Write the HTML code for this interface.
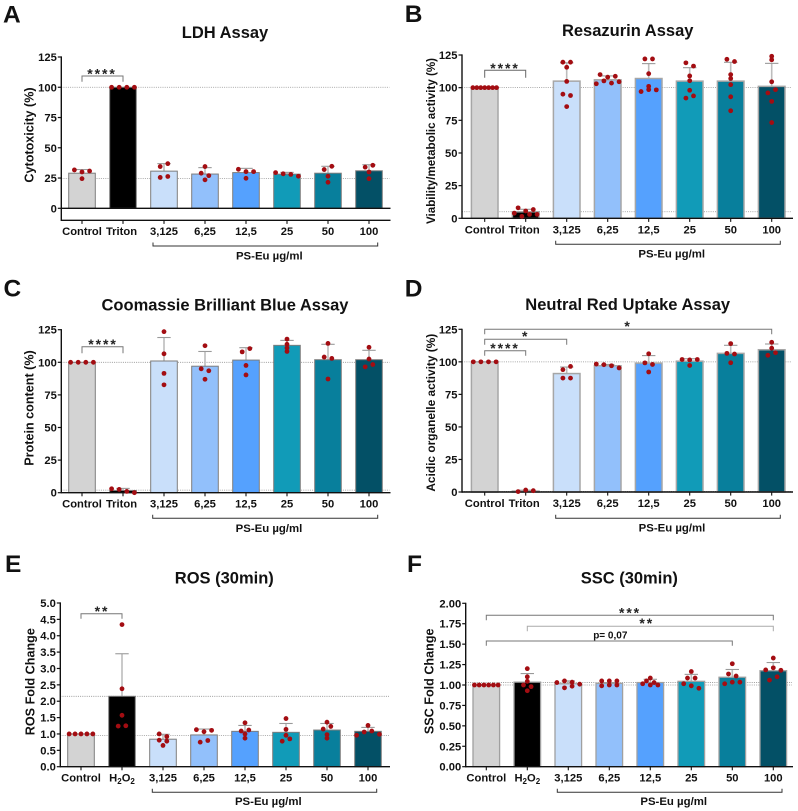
<!DOCTYPE html>
<html lang="en">
<head>
<meta charset="utf-8">
<title>PS-Eu assay panels</title>
<style>
  html,body{margin:0;padding:0;background:#fff;width:798px;height:811px;overflow:hidden}
  svg{display:block;font-family:"Liberation Sans",Arial,sans-serif;filter:blur(0.3px)}
  text{fill:#111;font-weight:bold}
</style>
</head>
<body>
<svg id="figure" xmlns="http://www.w3.org/2000/svg" width="798" height="811" viewBox="0 0 798 811"></svg>
<script>
const categoriesTriton = ['Control','Triton','3,125','6,25','12,5','25','50','100'];
const categoriesPeroxide = ['Control','H2O2','3,125','6,25','12,5','25','50','100'];
const percentTicks = ['0','25','50','75','100','125'];
const rosTicks = ['0.0','0.5','1.0','1.5','2.0','2.5','3.0','3.5','4.0','4.5','5.0'];
const sscTicks = ['0.00','0.25','0.50','0.75','1.00','1.25','1.50','1.75','2.00'];

const ldhMeans = [29,100,30.7,28.3,29.5,28.2,29,31];
const ldhErrorTops = [32,100,36.9,33.6,33,29.7,34.7,36];
const ldhPoints = [
  [31.7,30,30.8,24.5],[100,100,100,100],[34.5,36.9,25.5,26.3],[34.5,29,27,23.5],
  [32.2,30.3,30.3,24.8],[29.5,28.5,28,26.5],[32,34.7,26.5,21.5],[34,35.5,30,24.5]
];
const ldhReferenceLines = [100,24.5];

const resazurinMeans = [100,5,105,106,107,105,105,101];
const resazurinErrorTops = [100,6.9,119,109,118.4,115.3,119.4,118.6];
const resazurinPoints = [
  [100,100,100,100,100,100,100],[8,5.6,6.7,3.9,1.5,3,3],
  [119.5,119.5,115.6,104.8,95,94,85.5],[110,108,108.7,103,105.2,103.5,104.5],
  [122,122,110.7,101,97,98.5,98.3],[119,116.5,109,105.3,98,92,93.7],
  [121.7,120,110,107,102.3,93,82.3],[124,121.3,104.5,96,98.5,89.5,73.3]
];
const resazurinReferenceLines = [100,5];

const coomassieMeans = [100,1.7,101,97,101.7,113,102,102];
const coomassieErrorTops = [100,3.3,119,108.3,111.2,116.8,113.8,109.2];
const coomassiePoints = [
  [100,100,100,100],[3,2.5,1,0],[123.5,106.5,91.5,82.7],[112.7,95,93.5,87],
  [108,110.5,97.6,90.3],[117.8,113.8,111,108.3],[114.5,104,103,87.2],[111.5,102.5,96.5,98.3]
];
const coomassieReferenceLines = [100,2];

const neutralRedMeans = [100,0.7,91,97,99,100.5,106.5,109.3];
const neutralRedErrorTops = [100,1.4,96,98,104.8,102.4,112.7,113.7];
const neutralRedPoints = [
  [100,100,100,100],[0.3,1.5,1],[94,96.5,87.5,87.5],[98.3,97.8,97,95.3],
  [106.2,99.2,98,92.2],[101.8,101.5,101.8,97.2],[114,106.5,106,99.3],[115,110.5,105,107]
];
const neutralRedReferenceLines = [100,0.5];

const rosMeans = [1,2.15,0.84,0.97,1.08,1.05,1.12,1.08];
const rosErrorTops = [1,3.45,0.99,1.15,1.26,1.32,1.32,1.2];
const rosPoints = [
  [1,1,1,1,1],[4.34,2.38,1.57,1.24,1.25],[1,0.92,0.81,0.78,0.65],[1.13,1.07,1.11,0.75,0.8],
  [1.34,1.09,1.12,1,0.87],[1.47,1.14,0.96,0.78,0.85],[1.36,1.15,1.23,0.98,0.87],[1.26,0.96,1.06,1.09,0.99]
];
const rosReferenceLines = [2.15,0.95];

const sscMeans = [1,1.035,1.015,1.02,1.03,1.045,1.095,1.175];
const sscErrorTops = [1,1.14,1.05,1.03,1.07,1.13,1.19,1.275];
const sscPoints = [
  [1,1,1,1,1,1],[1.2,1.1,1.045,1,0.98,0.93],[1.03,1.05,1.035,1.01,0.965,0.985],
  [1.05,1.05,1.05,0.99,1,1],[1.05,1.03,1.085,1.015,1,1],[1.165,1.085,1.085,1.015,0.99,0.96],
  [1.26,1.135,1.11,1.015,1.035,1.035],[1.33,1.185,1.21,1.18,1.06,1.1]
];
const sscReferenceLines = [1.03,1];

const barColors = ['#d3d3d3','#000000','#c9dffa','#92c0fb','#55a1fe','#119bb8','#087f9c','#035066'];

const panels = [
  {key:'ldh',letter:'A',lx:3,ly:22.7,title:'LDH Assay',tx:225,ty:38,yTitle:'Cytotoxicity (%)',ytx:29,yty:135,ytSize:12.6,
   cats:categoriesTriton,means:ldhMeans,errs:ldhErrorTops,pts:ldhPoints,refs:ldhReferenceLines,ticks:percentTicks,
   yMax:125,axisX:61.3,yTop:57,yZero:208.3,xAxisY:220.3,xEnd:390.5,c0:82,dc:41,labelY:235,barStroke:'#7d7d7d',barSW:1,
   group:[153,377.7,246],groupLabel:[269.3,259.3],
   brackets:[{a:0,b:1,top:76,drop:5.7,text:'****',tx:102,cy:71,color:'#777'}]},
  {key:'resazurin',letter:'B',lx:404.7,ly:22,title:'Resazurin Assay',tx:627.7,ty:36,yTitle:'Viability/metabolic activity (%)',ytx:430.7,yty:141,ytSize:11.6,
   cats:categoriesTriton,means:resazurinMeans,errs:resazurinErrorTops,pts:resazurinPoints,refs:resazurinReferenceLines,ticks:percentTicks,
   yMax:125,axisX:462,yTop:55,yZero:218.3,xAxisY:218.3,xEnd:793,c0:484.7,dc:41,labelY:233.3,barStroke:'#a6a6a6',barSW:1.5,
   group:[555.7,780.3,244.3],groupLabel:[671.7,257.3],
   brackets:[{a:0,b:1,top:70.3,drop:7.4,text:'****',tx:505,cy:65.7,color:'#666'}]},
  {key:'coomassie',letter:'C',lx:3.5,ly:296.7,title:'Coomassie Brilliant Blue Assay',tx:225,ty:310.7,yTitle:'Protein content (%)',ytx:29,yty:408,ytSize:12.6,
   cats:categoriesTriton,means:coomassieMeans,errs:coomassieErrorTops,pts:coomassiePoints,refs:coomassieReferenceLines,ticks:percentTicks,
   yMax:125,axisX:61.3,yTop:329.7,yZero:492.7,xAxisY:492.7,xEnd:390.5,c0:82,dc:41,labelY:507.3,barStroke:'#7d7d7d',barSW:1,
   group:[152.7,377.7,518.3],groupLabel:[269,532],
   brackets:[{a:0,b:1,top:346.7,drop:6.6,text:'****',tx:103,cy:341.7,color:'#777'}]},
  {key:'neutral-red',letter:'D',lx:404.7,ly:296.7,title:'Neutral Red Uptake Assay',tx:627.7,ty:310,yTitle:'Acidic organelle activity (%)',ytx:430.7,yty:412.7,ytSize:11.9,
   cats:categoriesTriton,means:neutralRedMeans,errs:neutralRedErrorTops,pts:neutralRedPoints,refs:neutralRedReferenceLines,ticks:percentTicks,
   yMax:125,axisX:462,yTop:329.3,yZero:492,xAxisY:492,xEnd:793,c0:484.7,dc:41,labelY:507,barStroke:'#a6a6a6',barSW:1.5,
   group:[555.7,780.3,518.3],groupLabel:[672,531.7],
   brackets:[
     {a:0,b:7,top:329.3,drop:5,text:'*',tx:628,cy:323.3,color:'#777'},
     {a:0,b:2,top:339.3,drop:5.4,text:'*',tx:525.7,cy:333.7,color:'#777'},
     {a:0,b:1,top:350.7,drop:5,text:'****',tx:505,cy:345.3,color:'#777'}]},
  {key:'ros',letter:'E',lx:5,ly:572,title:'ROS (30min)',tx:224.3,ty:583.7,yTitle:'ROS Fold Change',ytx:30,yty:681.7,ytSize:12.6,
   cats:categoriesPeroxide,means:rosMeans,errs:rosErrorTops,pts:rosPoints,refs:rosReferenceLines,ticks:rosTicks,
   yMax:5,axisX:60.3,yTop:603,yZero:766.7,xAxisY:766.7,xEnd:390,c0:81,dc:41,labelY:781.3,barStroke:'#7d7d7d',barSW:1,
   group:[152.3,376.7,792.3],groupLabel:[268.3,805],
   brackets:[{a:0,b:1,top:613.7,drop:5,text:'**',tx:102,cy:608.7,color:'#777'}]},
  {key:'ssc',letter:'F',lx:407,ly:572,title:'SSC (30min)',tx:629.3,ty:583.7,yTitle:'SSC Fold Change',ytx:429.3,yty:681.3,ytSize:12.6,
   cats:categoriesPeroxide,means:sscMeans,errs:sscErrorTops,pts:sscPoints,refs:sscReferenceLines,ticks:sscTicks,
   yMax:2,axisX:465.7,yTop:603.3,yZero:766.7,xAxisY:766.7,xEnd:793,c0:486.3,dc:41,labelY:781.3,barStroke:'#a0a0a0',barSW:1.3,
   group:[557.3,782,792.3],groupLabel:[673.7,805],
   brackets:[
     {a:0,b:7,top:615.3,drop:5,text:'***',tx:630,cy:610,color:'#777'},
     {a:1,b:7,top:626.3,drop:5,text:'**',tx:646.7,cy:620.7,color:'#aaa'},
     {a:0,b:6,top:641,drop:4.7,text:'p= 0,07',tx:610.3,cy:635,color:'#777',plain:true}]}
];

const NS = 'http://www.w3.org/2000/svg';
const root = document.getElementById('figure');
const DOT_STEP = 7.6;
const DOT_SPAN = 23.7;
const DOT_GAP = 3.4;

function mk(parent, tag, attrs, content) {
  const el = document.createElementNS(NS, tag);
  for (const k in attrs) el.setAttribute(k, attrs[k]);
  if (content !== undefined) el.textContent = content;
  parent.appendChild(el);
  return el;
}

function dotOffsets(values, toPx) {
  const offsets = [];
  let i = 0;
  while (i < values.length) {
    let j = i + 1;
    while (j < values.length && Math.abs(toPx(values[j]) - toPx(values[j - 1])) < DOT_GAP) j++;
    const n = j - i;
    const step = n > 1 ? Math.min(DOT_STEP, DOT_SPAN / (n - 1)) : 0;
    for (let k = 0; k < n; k++) offsets.push((k - (n - 1) / 2) * step);
    i = j;
  }
  return offsets;
}

function drawPanel(p) {
  const yScale = v => p.yZero - (v / p.yMax) * (p.yZero - p.yTop);
  const xScale = i => p.c0 + i * p.dc;
  const g = mk(root, 'g', {});
  
  

  const letter = mk(g, 'text', {x:p.lx, y:p.ly, 'font-size':24.5}, p.letter);
  
  

  const title = mk(g, 'text', {x:p.tx, y:p.ty, 'font-size':16.5, 'text-anchor':'middle'}, p.title);
  
  

  const yTitle = mk(g, 'text', {transform:'translate(' + (p.ytx + 4.4) + ',' + p.yty + ') rotate(-90)', 'font-size':p.ytSize, 'text-anchor':'middle'}, p.yTitle);
  
  

  p.refs.forEach(v => {
    const ref = mk(g, 'line', {x1:p.axisX, x2:p.xEnd - 1, y1:yScale(v), y2:yScale(v), stroke:'#8f8f8f', 'stroke-width':0.8, 'stroke-dasharray':'1 1.2'});
    
    
  });

  p.means.forEach((v, i) => {
    const cx = xScale(i);
    const stem = mk(g, 'line', {x1:cx, x2:cx, y1:yScale(v), y2:yScale(p.errs[i]), stroke:'#bdbdbd', 'stroke-width':1.6});
    
    
    if (p.errs[i] > v) {
      const cap = mk(g, 'line', {x1:cx - 6.7, x2:cx + 6.7, y1:yScale(p.errs[i]), y2:yScale(p.errs[i]), stroke:'#9a9a9a', 'stroke-width':1.1});
      
      
    }
    const bar = mk(g, 'rect', {x:cx - 13.3, y:yScale(v), width:26.6, height:p.yZero - yScale(v), fill:barColors[i], stroke:p.barStroke, 'stroke-width':p.barSW});
    
    
  });

  const yAxis = mk(g, 'line', {x1:p.axisX, x2:p.axisX, y1:p.yTop - 0.6, y2:p.xAxisY + 0.7, stroke:'#111', 'stroke-width':1.4});
  
  

  const xAxis = mk(g, 'line', {x1:p.axisX, x2:p.xEnd, y1:p.xAxisY, y2:p.xAxisY, stroke:'#111', 'stroke-width':1.4});
  
  

  if (p.xAxisY !== p.yZero) {
    const zero = mk(g, 'line', {x1:p.axisX, x2:p.xEnd, y1:p.yZero, y2:p.yZero, stroke:'#111', 'stroke-width':1.4});
    
    
  }

  p.ticks.forEach(t => {
    const y = yScale(parseFloat(t));
    const tick = mk(g, 'line', {x1:p.axisX - 3.5, x2:p.axisX, y1:y, y2:y, stroke:'#111', 'stroke-width':1.2});
    
    
    const label = mk(g, 'text', {x:p.axisX - 4.5, y:y + 4, 'font-size':11.2, 'text-anchor':'end'}, t);
    
    
  });

  p.cats.forEach((c, i) => {
    const cx = xScale(i);
    const tick = mk(g, 'line', {x1:cx, x2:cx, y1:p.xAxisY, y2:p.xAxisY + 3.6, stroke:'#111', 'stroke-width':1.1});
    
    
    const label = mk(g, 'text', {x:c === 'Triton' ? cx - 1.5 : cx, y:p.labelY, 'font-size':11.2, 'text-anchor':'middle'});
    
    
    if (c === 'H2O2') {
      mk(label, 'tspan', {}, 'H');
      mk(label, 'tspan', {'font-size':8, dy:2.5}, '2');
      mk(label, 'tspan', {dy:-2.5}, 'O');
      mk(label, 'tspan', {'font-size':8, dy:2.5}, '2');
    } else {
      label.textContent = c;
    }
  });

  p.pts.forEach((vals, i) => {
    const offs = dotOffsets(vals, yScale);
    vals.forEach((v, k) => {
      const dot = mk(g, 'circle', {cx:xScale(i) + offs[k], cy:yScale(v), r:2.4, fill:'#a30d12'});
      
      
    });
  });

  p.brackets.forEach(b => {
    const x1 = xScale(b.a), x2 = xScale(b.b);
    const d = 'M' + x1 + ' ' + (b.top + b.drop) + 'V' + b.top + 'H' + x2 + 'V' + (b.top + b.drop);
    const path = mk(g, 'path', {d:d, fill:'none', stroke:b.color, 'stroke-width':1});
    
    
    const attrs = b.plain
      ? {x:b.tx, y:b.cy + 3.5, 'font-size':10, 'text-anchor':'middle'}
      : {x:b.tx, y:b.cy + 7.5, 'font-size':14, 'letter-spacing':1.9, 'text-anchor':'middle', style:'fill:#222'};
    const sig = mk(g, 'text', attrs, b.text);
    
    
  });

  const [gx1, gx2, gy] = p.group;
  const bracket = mk(g, 'path', {d:'M' + gx1 + ' ' + (gy - 3.5) + 'V' + gy + 'H' + gx2 + 'V' + (gy - 3.5), fill:'none', stroke:'#333', 'stroke-width':1});
  
  
  const groupLabel = mk(g, 'text', {x:p.groupLabel[0], y:p.groupLabel[1], 'font-size':11.4, 'text-anchor':'middle'}, 'PS-Eu µg/ml');
  
  
}

panels.forEach(drawPanel);
</script>
</body>
</html>
